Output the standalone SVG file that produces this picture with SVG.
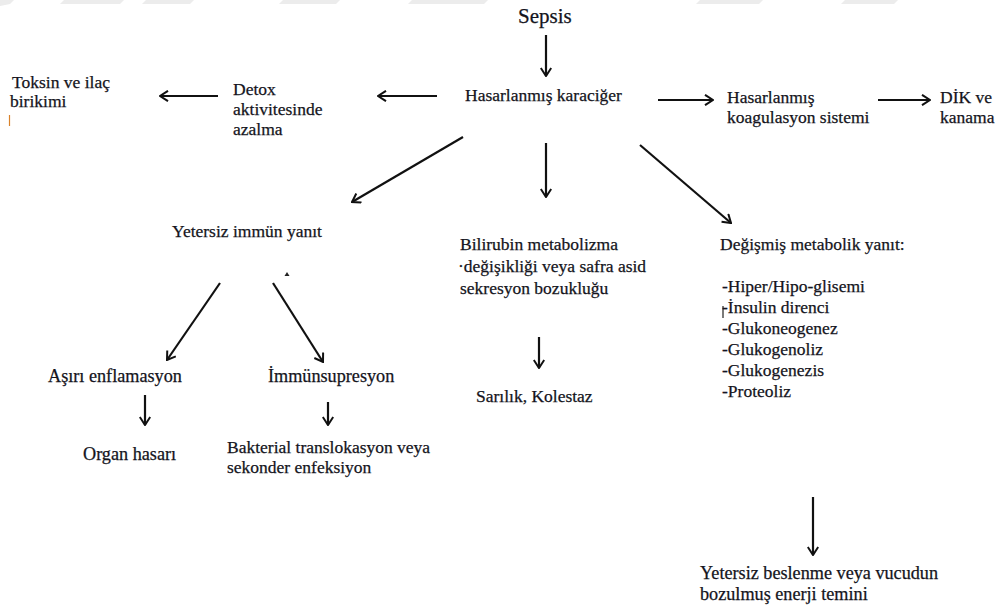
<svg xmlns="http://www.w3.org/2000/svg" width="1000" height="606" viewBox="0 0 1000 606">
<defs>
<style>
.t{font-family:'Liberation Serif','Times New Roman',Tinos,'DejaVu Serif',serif;font-size:17.5px;fill:#141420;stroke:#141420;stroke-width:0.25}
.big{font-size:21px}
.m{font-size:18.2px}
.ln{stroke:#111;stroke-width:2.2;fill:none}
.wm{fill:#ececec}
</style>
<marker id="ah" viewBox="0 0 10 12" refX="9" refY="6" markerWidth="10" markerHeight="12" markerUnits="userSpaceOnUse" orient="auto">
<path d="M1,0.8 L9,6 L1,11.2" fill="none" stroke="#111" stroke-width="2"/>
</marker>
</defs>
<rect width="1000" height="606" fill="#fff"/>
<g id="watermark">
<polygon class="wm" points="0,0 14,0 10,4 0,6"/>
<polygon class="wm" points="64,0 124,0 120,4 60,4"/>
<polygon class="wm" points="146,0 194,0 190,4 142,4"/>
<polygon class="wm" points="283,0 340,0 336,4 279,4"/>
<polygon class="wm" points="412,0 488,0 484,4 408,4"/>
<polygon class="wm" points="700,0 763,0 759,4 696,4"/>
<polygon class="wm" points="845,0 898,0 894,4 841,4"/>
</g>
<g id="connectors">
<line class="ln" x1="546" y1="35" x2="546" y2="76" marker-end="url(#ah)"/>
<line class="ln" x1="437" y1="96" x2="378" y2="96" marker-end="url(#ah)"/>
<line class="ln" x1="218" y1="96" x2="160" y2="96" marker-end="url(#ah)"/>
<line class="ln" x1="658" y1="100" x2="713" y2="100" marker-end="url(#ah)"/>
<line class="ln" x1="878" y1="100" x2="930" y2="100" marker-end="url(#ah)"/>
<line class="ln" x1="463" y1="137" x2="352" y2="202" marker-end="url(#ah)"/>
<line class="ln" x1="546" y1="143" x2="546" y2="197" marker-end="url(#ah)"/>
<line class="ln" x1="640" y1="145" x2="731" y2="223" marker-end="url(#ah)"/>
<line class="ln" x1="220" y1="283" x2="167" y2="360" marker-end="url(#ah)"/>
<line class="ln" x1="273" y1="283" x2="323" y2="362" marker-end="url(#ah)"/>
<line class="ln" x1="145" y1="395" x2="145" y2="425" marker-end="url(#ah)"/>
<line class="ln" x1="328" y1="402" x2="328" y2="425" marker-end="url(#ah)"/>
<line class="ln" x1="539" y1="337" x2="539" y2="368" marker-end="url(#ah)"/>
<line class="ln" x1="813" y1="497" x2="813" y2="555" marker-end="url(#ah)"/>
</g>
<g id="marks">
<line x1="9.5" y1="115" x2="9.5" y2="126" stroke="#d9822b" stroke-width="1.2"/>
<polygon points="287,272 289.5,276 284.5,276" fill="#222"/>
<line x1="723" y1="306" x2="723" y2="318" stroke="#222" stroke-width="1.2"/>
</g>
<g id="n-sepsis"><text class="t big" x="518" y="23">Sepsis</text></g>
<g id="n-karaciger"><text class="t" x="465" y="101">Hasarlanmış karaciğer</text></g>
<g id="n-detox"><text class="t" x="233" y="95">Detox</text><text class="t" x="233" y="115">aktivitesinde</text><text class="t" x="233" y="135">azalma</text></g>
<g id="n-toksin"><text class="t" x="12" y="88">Toksin ve ilaç</text><text class="t" x="10" y="107">birikimi</text></g>
<g id="n-koag"><text class="t" x="727" y="103">Hasarlanmış</text><text class="t" x="727" y="123">koagulasyon sistemi</text></g>
<g id="n-dik"><text class="t" x="940" y="103">DİK ve</text><text class="t" x="940" y="123">kanama</text></g>
<g id="n-immun"><text class="t" x="172" y="237">Yetersiz immün yanıt</text></g>
<g id="n-enflamasyon"><text class="t m" x="48" y="382">Aşırı enflamasyon</text></g>
<g id="n-immunsupresyon"><text class="t m" x="268" y="382">İmmünsupresyon</text></g>
<g id="n-organ"><text class="t m" x="83" y="460">Organ hasarı</text></g>
<g id="n-bakterial"><text class="t" x="227" y="453">Bakterial translokasyon veya</text><text class="t" x="227" y="473">sekonder enfeksiyon</text></g>
<g id="n-bilirubin"><text class="t" x="460" y="250">Bilirubin metabolizma</text><text class="t" x="458" y="272">·değişikliği veya safra asid</text><text class="t" x="460" y="294">sekresyon bozukluğu</text></g>
<g id="n-sarilik"><text class="t" x="476" y="402">Sarılık, Kolestaz</text></g>
<g id="n-metabolik"><text class="t" x="720" y="250">Değişmiş metabolik yanıt:</text>
<text class="t" x="722" y="292">-Hiper/Hipo-glisemi</text>
<text class="t" x="722" y="313">-İnsulin direnci</text>
<text class="t" x="722" y="334">-Glukoneogenez</text>
<text class="t" x="722" y="355">-Glukogenoliz</text>
<text class="t" x="722" y="376">-Glukogenezis</text>
<text class="t" x="722" y="397">-Proteoliz</text></g>
<g id="n-beslenme"><text class="t m" x="700" y="579">Yetersiz beslenme veya vucudun</text><text class="t m" x="700" y="600">bozulmuş enerji temini</text></g>
</svg>
